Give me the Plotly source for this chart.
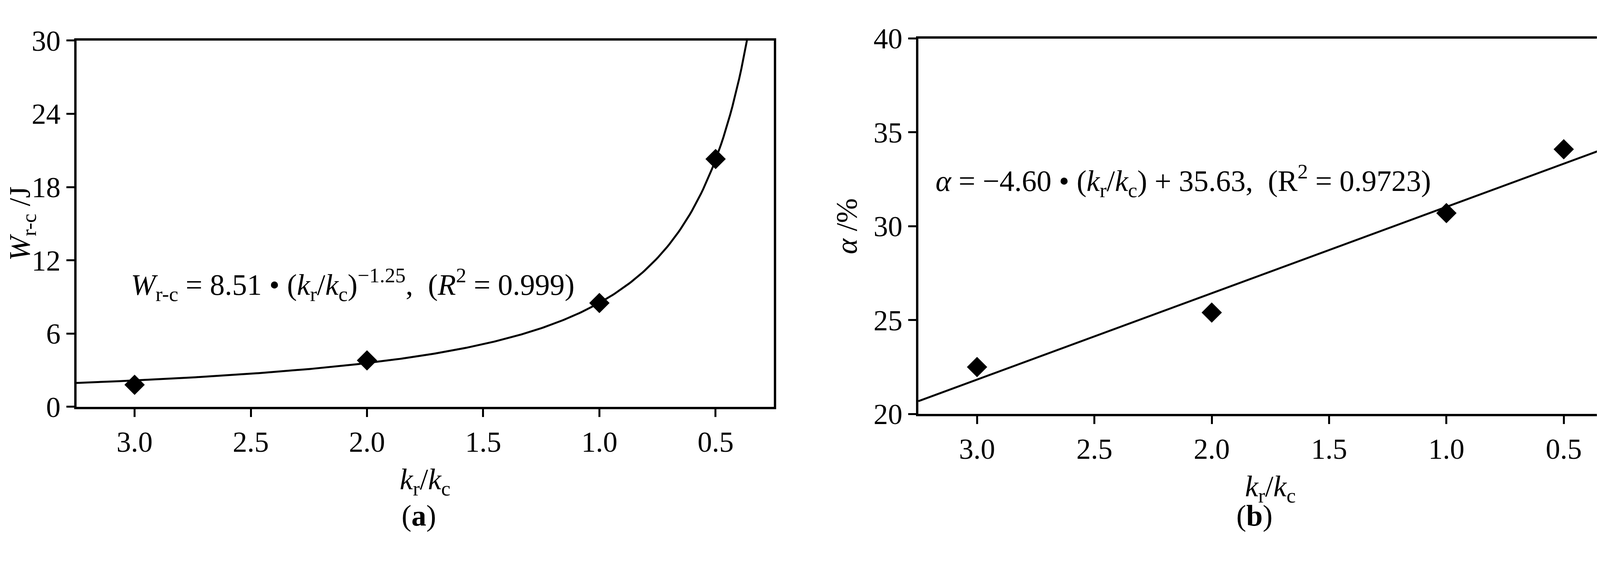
import numpy as np
import plotly.graph_objects as go

kr_kc = [3.0, 2.0, 1.0, 0.5]
W_rc = [1.8, 3.8, 8.5, 20.3]
alpha = [22.5, 25.4, 30.7, 34.1]
x_ticks = [3.0, 2.5, 2.0, 1.5, 1.0, 0.5]
x_tick_labels = ["3.0", "2.5", "2.0", "1.5", "1.0", "0.5"]
fit_a_coef, fit_a_exp = 8.51, -1.25
fit_b_slope, fit_b_int = -4.60, 35.63

F = "Liberation Serif"
fig = go.Figure()

xc = np.linspace(0.36, 3.25, 300)
fig.add_trace(go.Scatter(x=xc, y=fit_a_coef * xc ** fit_a_exp, mode="lines",
                         line=dict(color="black", width=5), xaxis="x", yaxis="y"))
fig.add_trace(go.Scatter(x=kr_kc, y=W_rc, mode="markers",
                         marker=dict(symbol="diamond", size=40, color="black"), xaxis="x", yaxis="y"))
xl = np.array([3.25, 0.25])
fig.add_trace(go.Scatter(x=xl, y=fit_b_slope * xl + fit_b_int, mode="lines",
                         line=dict(color="black", width=5), xaxis="x2", yaxis="y2"))
fig.add_trace(go.Scatter(x=kr_kc, y=alpha, mode="markers",
                         marker=dict(symbol="diamond", size=40, color="black"), xaxis="x2", yaxis="y2"))

ax = dict(showgrid=False, zeroline=False, showline=True, linecolor="black", linewidth=6,
          mirror=True, ticks="outside", ticklen=20, tickwidth=5, tickcolor="black",
          tickfont=dict(family=F, size=74, color="black"))
tf = dict(family=F, size=76, color="black")
xt = dict(ax, range=[3.25, 0.25], tickvals=x_ticks, ticktext=x_tick_labels,
          title=dict(text="<i>k</i><sub>r</sub>/<i>k</i><sub>c</sub>", font=tf, standoff=30))

fig.update_layout(
    width=4183, height=1447, margin=dict(l=0, r=0, t=0, b=0),
    paper_bgcolor="white", plot_bgcolor="white", showlegend=False,
    xaxis=dict(xt, domain=[0.0433, 0.4707], anchor="y"),
    yaxis=dict(ax, domain=[0.272, 0.959], range=[0, 30], tickvals=[0, 6, 12, 18, 24, 30], anchor="x",
               title=dict(text="<i>W</i><sub>r-c</sub> /J", font=tf, standoff=20)),
    xaxis2=dict(xt, domain=[0.5594, 0.991], anchor="y2"),
    yaxis2=dict(ax, domain=[0.2585, 0.963], range=[20, 40], tickvals=[20, 25, 30, 35, 40], anchor="x2",
                title=dict(text="<i>α</i> /%", font=tf, standoff=20)),
    annotations=[
        dict(text="<i>W</i><sub>r-c</sub> = 8.51 • (<i>k</i><sub>r</sub>/<i>k</i><sub>c</sub>)<sup>−1.25</sup>,  (<i>R</i><sup>2</sup> = 0.999)",
             x=3.02, y=10.0, xref="x", yref="y", xanchor="left", showarrow=False,
             font=dict(family=F, size=76, color="black")),
        dict(text="<i>α</i> = −4.60 • (<i>k</i><sub>r</sub>/<i>k</i><sub>c</sub>) + 35.63,  (R<sup>2</sup> = 0.9723)",
             x=3.18, y=32.4, xref="x2", yref="y2", xanchor="left", showarrow=False,
             font=dict(family=F, size=76, color="black")),
        dict(text="(<b>a</b>)", x=0.242, y=0.035, xref="paper", yref="paper", showarrow=False,
             font=dict(family=F, size=76, color="black")),
        dict(text="(<b>b</b>)", x=0.777, y=0.035, xref="paper", yref="paper", showarrow=False,
             font=dict(family=F, size=76, color="black")),
    ],
)
fig.write_html("out.html")
